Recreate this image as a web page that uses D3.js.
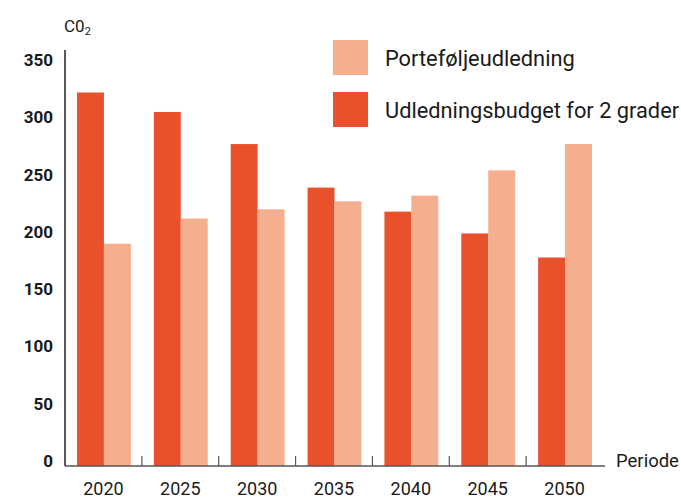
<!DOCTYPE html>
<html lang="da">
<head>
    <meta charset="UTF-8">
    <title>Porteføljeudledning vs. udledningsbudget</title>
    <script src="https://d3js.org/d3.v7.min.js"></script>
    <style>
        body { margin: 0; background: #fff; }
        text { font-family: Roboto, "Noto Sans", sans-serif; fill: #1a1a1a; }
        .ylab { font-size: 17px; font-weight: bold; }
        .xlab { font-size: 18px; }
        .leg { font-size: 21.8px; }
    </style>
</head>
<body>
    <div id="chart"></div>
    <script>
      // data
      const periods = ["2020", "2025", "2030", "2035", "2040", "2045", "2050"];
      const budget = [326, 309, 281, 243, 222, 203, 182];      // Udledningsbudget for 2 grader
      const portfolio = [194, 216, 224, 231, 236, 258, 281];   // Porteføljeudledning
      const yTicks = [0, 50, 100, 150, 200, 250, 300, 350];
      const seriesNames = ["Porteføljeudledning", "Udledningsbudget for 2 grader"];
      const colors = { budget: "#E9502C", portfolio: "#F5AF8E" };

      const W = 681, H = 499;
      const plot = { left: 65, right: 603, bottom: 466, top: 65 };

      const svg = d3.select("#chart").append("svg")
          .attr("width", W)
          .attr("height", H);

      const x = d3.scaleBand().domain(periods).range([plot.left, plot.right]);
      const x1 = d3.scaleBand().domain(["budget", "portfolio"])
          .range([12, x.bandwidth() - 11]);
      const y = d3.scaleLinear().domain([0, 350]).range([plot.bottom, plot.top]);

      const rows = periods.map((p, i) => ({ period: p, budget: budget[i], portfolio: portfolio[i] }));

      // bars
      const groups = svg.selectAll(".grp")
          .data(rows)
          .enter().append("g")
          .attr("transform", d => "translate(" + x(d.period) + ",0)");
      groups.selectAll("rect")
          .data(d => ["budget", "portfolio"].map(k => ({ key: k, value: d[k] })))
          .enter().append("rect")
            .attr("x", d => x1(d.key))
            .attr("y", d => y(d.value))
            .attr("width", x1.bandwidth())
            .attr("height", d => y(0) - y(d.value))
            .attr("fill", d => colors[d.key]);

      // y axis line
      svg.append("line")
          .attr("x1", plot.left).attr("x2", plot.left)
          .attr("y1", 50).attr("y2", plot.bottom)
          .attr("stroke", "#222").attr("stroke-width", 1.5);

      // x axis line + separators between periods
      svg.append("line")
          .attr("x1", plot.left).attr("x2", 605)
          .attr("y1", plot.bottom).attr("y2", plot.bottom)
          .attr("stroke", "#555").attr("stroke-width", 1.5);
      svg.selectAll(".sep")
          .data(periods.slice(1))
          .enter().append("line")
            .attr("x1", d => x(d)).attr("x2", d => x(d))
            .attr("y1", plot.bottom - 10).attr("y2", plot.bottom)
            .attr("stroke", "#555").attr("stroke-width", 1.2);

      // y labels
      svg.selectAll(".ylab")
          .data(yTicks)
          .enter().append("text")
            .attr("class", "ylab")
            .attr("x", 53)
            .attr("y", d => y(d) - 5)
            .attr("dy", "0.35em")
            .attr("text-anchor", "end")
            .text(d => d);

      // x labels
      svg.selectAll(".xlab")
          .data(periods)
          .enter().append("text")
            .attr("class", "xlab")
            .attr("x", d => x(d) + x.bandwidth() / 2)
            .attr("y", 489)
            .attr("dy", "0.35em")
            .attr("text-anchor", "middle")
            .text(d => d);

      // axis titles
      const co2 = svg.append("text")
          .attr("x", 64).attr("y", 32)
          .style("font-size", "17px");
      co2.append("tspan").text("C0");
      co2.append("tspan").attr("dy", 3).style("font-size", "11px").text("2");

      svg.append("text")
          .attr("x", 616).attr("y", 461)
          .attr("dy", "0.35em")
          .style("font-size", "18.5px")
          .text("Periode");

      // legend
      const legKeys = ["portfolio", "budget"];
      const leg = svg.selectAll(".legitem")
          .data(legKeys)
          .enter().append("g")
          .attr("transform", (d, i) => "translate(333," + (40 + i * 52) + ")");
      leg.append("rect")
          .attr("width", 35).attr("height", 35)
          .attr("fill", d => colors[d]);
      leg.append("text")
          .attr("class", "leg")
          .attr("x", 52).attr("y", 18)
          .attr("dy", "0.35em")
          .text((d, i) => seriesNames[i]);
    </script>
</body>
</html>
